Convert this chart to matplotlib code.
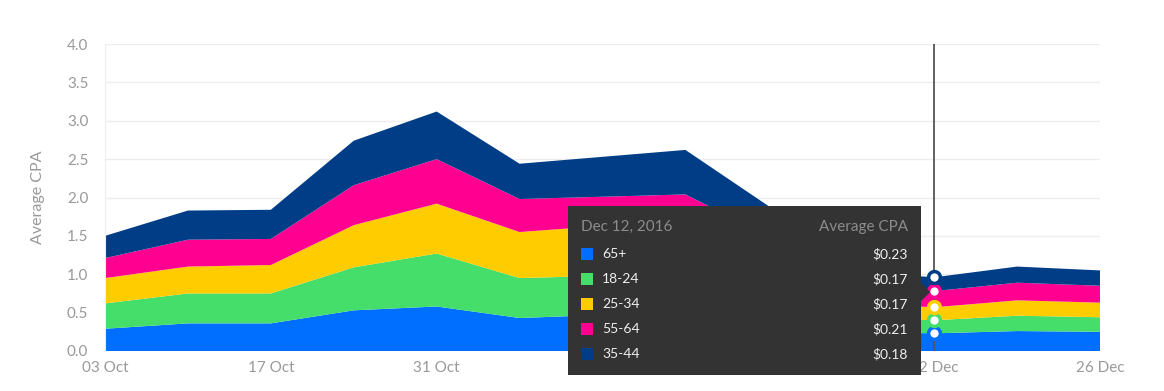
import numpy as np
import matplotlib
matplotlib.use('Agg')
import matplotlib.pyplot as plt
from matplotlib.patches import Rectangle, Polygon

plt.rcParams['font.family'] = ['Lato', 'DejaVu Sans']

# Data
weeks = ['03 Oct', '10 Oct', '17 Oct', '24 Oct', '31 Oct', '07 Nov', '14 Nov',
         '21 Nov', '28 Nov', '05 Dec', '12 Dec', '19 Dec', '26 Dec']
groups = ['65+', '18-24', '25-34', '55-64', '35-44']
cpa_65 = [0.29, 0.36, 0.36, 0.53, 0.58, 0.43, 0.47, 0.48, 0.36, 0.25, 0.23, 0.26, 0.25]
cpa_18_24 = [0.33, 0.39, 0.39, 0.56, 0.69, 0.52, 0.51, 0.52, 0.39, 0.18, 0.17, 0.20, 0.19]
cpa_25_34 = [0.33, 0.35, 0.37, 0.55, 0.65, 0.60, 0.65, 0.65, 0.45, 0.19, 0.17, 0.20, 0.19]
cpa_55_64 = [0.26, 0.35, 0.34, 0.52, 0.58, 0.43, 0.38, 0.39, 0.30, 0.21, 0.21, 0.23, 0.22]
cpa_35_44 = [0.29, 0.38, 0.38, 0.58, 0.62, 0.46, 0.52, 0.58, 0.39, 0.21, 0.18, 0.21, 0.20]
colors = ['#006FFF', '#45DE6A', '#FFCC00', '#FF0090', '#003D87']
hover = 10
hover_title = 'Dec 12, 2016'

series = [cpa_65, cpa_18_24, cpa_25_34, cpa_55_64, cpa_35_44]
x = np.arange(len(weeks))

W, H = 1164, 391
fig = plt.figure(figsize=(W / 100, H / 100), dpi=100)
ax = fig.add_axes([105 / W, 40 / H, 995 / W, 307 / H])

ax.stackplot(x, *series, colors=colors, linewidth=0, zorder=2)

ax.set_xlim(0, len(weeks) - 1)
ax.set_ylim(0, 4.0)
ax.set_yticks(np.arange(0, 4.01, 0.5))
ax.set_yticklabels(['%.1f' % v for v in np.arange(0, 4.01, 0.5)])
ax.set_xticks(x[::2])
ax.set_xticklabels(weeks[::2])
ax.grid(axis='y', color='#EEEEEE', lw=1, zorder=0)
ax.set_axisbelow(True)
for s in ['top', 'right', 'bottom']:
    ax.spines[s].set_visible(False)
ax.spines['left'].set_color('#EEEEEE')
ax.tick_params(axis='y', length=0, pad=12, labelsize=11, labelcolor='#999999')
ax.tick_params(axis='x', length=0, pad=7, labelsize=11, labelcolor='#999999')
ax.set_ylabel('Average CPA', fontsize=11.5, color='#999999', labelpad=16)

# hover line and markers
ax.axvline(x[hover], color='#555555', lw=1.3, zorder=5)
tops = np.cumsum([s[hover] for s in series])
for t, c in zip(tops, colors):
    ax.plot(x[hover], t, 'o', ms=8.5, mfc='white', mec=c, mew=2.5, zorder=6, clip_on=False)

# tooltip
fig.canvas.draw()
px, _ = ax.transData.transform((x[hover], 0))
right = px - 13
left = right - 353
top = H - 206
bottom = H - 375


def fx(p):
    return p / W


def fy(p):
    return p / H


fig.patches.append(Rectangle((fx(left), fy(bottom)), fx(right - left), fy(top - bottom),
                             transform=fig.transFigure, facecolor='#333333', edgecolor='none',
                             zorder=10))
ay = H - 292
fig.patches.append(Polygon([(fx(right - 9), fy(ay)), (fx(right), fy(ay + 9)),
                            (fx(right + 9), fy(ay)), (fx(right), fy(ay - 9))],
                           closed=True, transform=fig.transFigure, facecolor='#333333',
                           edgecolor='none', zorder=10))
fig.text(fx(left + 13), fy(H - 227), hover_title, fontsize=11, color='#8C8C8C',
         va='center', ha='left', zorder=11)
fig.text(fx(right - 13), fy(H - 227), 'Average CPA', fontsize=11, color='#8C8C8C',
         va='center', ha='right', zorder=11)
row_y = [254, 279, 304, 329, 354]
for g, s, c, ry in zip(groups, series, colors, row_y):
    fig.patches.append(Rectangle((fx(left + 13), fy(H - ry - 6)), fx(12), fy(12),
                                 transform=fig.transFigure, facecolor=c, edgecolor='none',
                                 zorder=11))
    fig.text(fx(left + 34), fy(H - ry), g, fontsize=10, color='#EEEEEE',
             va='center', ha='left', zorder=11)
    fig.text(fx(right - 13), fy(H - ry), '$%.2f' % s[hover], fontsize=10, color='#EEEEEE',
             va='center', ha='right', zorder=11)

fig.savefig('out.png', dpi=100)
